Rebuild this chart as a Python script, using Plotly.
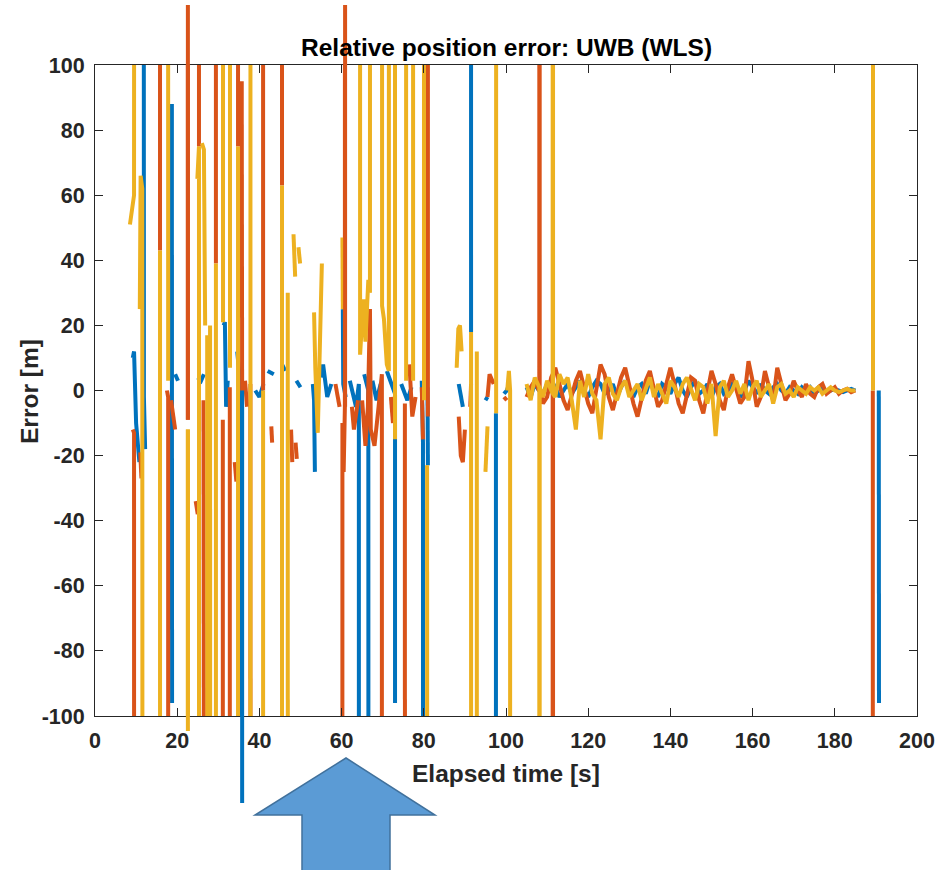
import plotly.graph_objects as go

N = None
# ---------------- data (time [s], error [m]); +/-999 = off-scale spike ----------------
t_blue_early = [9.2, 9.5, 10.0, 10.8, N,
                11.7, 11.7, 11.9, 12.2, N,
                18.7, 18.75, N,
                19.5, 20.2, N,
                25.0, 25.8, 26.5, N,
                31.3, 31.6, 31.9, 32.3, N,
                34.6, 35.2, 35.7, 35.8, N,
                39.0, 40.0, 41.0, N,
                42.0, 43.5, N,
                45.5, 46.3, N,
                49.0, 50.0, N,
                53.0, 53.3, 53.5, N,
                55.0, 55.5, 56.5, 57.5, N,
                60.3, 60.4, 61.0, N,
                62.0, 63.5, 64.2, 64.25, N,
                65.5, 66.5, 66.7, N,
                67.5, 68.5, 69.5, N,
                71.0, 72.0, 73.0, 73.0, N,
                74.5, 76.0, 77.0, N,
                79.5, 79.8, 79.85, N,
                80.9, 81.0, N,
                88.5, 89.0, 89.5, N,
                91.45, 91.5, N,
                95.0, 95.5, N,
                97.55, 97.6, N,
                99.5, 100.2, 100.8, N]
e_blue_early = [10, 12, -10, -22, N,
                999, 1, -2, -18, N,
                88, -96, N,
                5, 3, N,
                4, 3, 5, N,
                20, 21, -5, 3, N,
                12, 4, 2, -999, N,
                0, -2, 2, N,
                6, 5, N,
                8, 6, N,
                3, 1, N,
                2, -3, -25, N,
                4, 8, -2, 2, N,
                25, 2, -2, N,
                3, -5, 2, -999, N,
                5, 0, -999, N,
                3, -3, 2, N,
                6, 2, -1, -96, N,
                2, -3, 1, N,
                3, -16, -999, N,
                1, -23, N,
                2, -1, -5, N,
                999, 18, N,
                -3, -2, N,
                -7, -999, N,
                -1, 0, 2, N]

t_orange_early = [9.2, 9.5, 9.6, N,
                  11.0, 11.3, N,
                  15.8, 15.82, N,
                  17.5, 17.8, 17.85, N,
                  18.5, 19.5, N,
                  22.6, 22.62, N,
                  24.5, 25.0, N,
                  25.28, 25.3, N,
                  26.4, 26.7, 27.2, N,
                  29.4, 29.42, N,
                  31.1, 31.15, N,
                  32.8, 32.85, N,
                  34.0, 34.4, N,
                  34.78, 34.8, N,
                  35.7, 35.8, N,
                  36.5, 37.0, N,
                  37.8, 37.95, N,
                  40.88, 40.9, N,
                  42.9, 43.1, N,
                  45.48, 45.5, N,
                  47.7, 48.0, N,
                  48.8, 49.1, N,
                  58.5, 59.5, N,
                  60.1, 60.2, 60.5, 60.8, 60.85, N,
                  62.5, 63.0, 64.0, N,
                  65.0, 65.8, 66.4, 66.9, 67.1, 68.0, 69.0, 69.8, 69.85, N,
                  72.0, 72.5, N,
                  75.4, 75.45, N,
                  76.5, 77.2, 78.0, N,
                  79.5, 79.8, N,
                  80.98, 81.0, N,
                  88.5, 89.0, 89.5, 90.0, N,
                  91.3, 91.5, N,
                  95.5, 96.0, 97.0, N,
                  99.5, 100.2, N]
e_orange_early = [-12, -13, -999, N,
                  -19, -27, N,
                  999, 43, N,
                  0, -2, -999, N,
                  -3, -12, N,
                  -9, 999, N,
                  -34, -38, N,
                  999, 75, N,
                  -3, -47, -999, N,
                  999, 39, N,
                  -9, -999, N,
                  1, -999, N,
                  -22, -28, N,
                  999, 75, N,
                  95, -1, N,
                  3, -5, N,
                  2, -999, N,
                  999, 0, N,
                  -11, -16, N,
                  999, 63, N,
                  -12, -22, N,
                  -16, -21, N,
                  2, -5, N,
                  -999, -10, -25, -5, 999, N,
                  -5, -12, -3, N,
                  -3, -17, -5, 25, -12, -17, -5, 5, -999, N,
                  -2, -10, N,
                  -4, -999, N,
                  8, -8, -2, N,
                  1, -15, N,
                  999, -8, N,
                  -8, -20, -22, -12, N,
                  -5, 2, N,
                  -2, 5, 2, N,
                  -2, -3, N]

t_yellow_early = [8.5, 9.5, 9.7, N,
                  10.9, 11.1, 11.5, 11.7, N,
                  15.82, 15.85, N,
                  17.75, 17.8, N,
                  22.6, 22.62, N,
                  24.9, 25.3, 25.35, N,
                  26.0, 26.5, 26.8, N,
                  27.3, 27.7, N,
                  28.0, 28.1, N,
                  29.42, 29.45, N,
                  31.1, 31.15, N,
                  32.8, 32.85, N,
                  34.8, 34.82, N,
                  37.8, 37.85, N,
                  40.9, 40.92, N,
                  45.5, 45.52, N,
                  46.9, 46.95, N,
                  48.3, 48.7, N,
                  49.5, 49.9, N,
                  53.3, 53.6, 54.2, 54.6, 55.2, N,
                  60.2, 60.3, N,
                  64.45, 64.5, 65.3, 65.8, 66.5, 66.9, 66.95, N,
                  69.8, 69.85, 70.3, 71.0, 71.5, 71.55, N,
                  72.95, 73.0, N,
                  75.65, 75.7, N,
                  77.35, 77.4, N,
                  80.0, 80.05, N,
                  80.8, 80.85, N,
                  88.0, 88.4, 88.8, 89.2, N,
                  91.5, 91.55, N,
                  92.9, 92.95, N,
                  95.0, 95.5, N,
                  97.55, 97.6, N,
                  100.3, 100.7, 101.0, 101.05, N]
e_yellow_early = [51, 60, 999, N,
                  25, 66, 62, -999, N,
                  43, -999, N,
                  999, 3, N,
                  -12, -999, N,
                  65, 75, -999, N,
                  76, 74, 20, N,
                  17, -999, N,
                  20, -999, N,
                  39, -999, N,
                  999, 21, N,
                  999, 7, N,
                  75, -999, N,
                  999, -999, N,
                  0, -999, N,
                  63, -999, N,
                  30, -999, N,
                  48, 35, N,
                  44, 39, N,
                  24, 7, -13, 10, 39, N,
                  47, 25, N,
                  999, 11, 28, 15, 34, 30, 999, N,
                  999, 26, 22, 8, 6, 999, N,
                  999, -15, N,
                  999, 3, N,
                  999, 3, N,
                  999, -3, N,
                  -23, -999, N,
                  7, 19, 20, 12, N,
                  18, -999, N,
                  12, -999, N,
                  -25, -11, N,
                  999, -7, N,
                  0, 6, 0, -999, N]

# dense part, sampled once per second from 105 s to 185 s
t_dense = list(range(105, 186))
e_blue_dense = [1, -2, 2, 0, -1, 2, 3, 1, -2, 0, 2, -1, 1, 3, 0, -2, 1, 3, 2, -1,
                0, 2, -2, 1, 3, 0, -2, 1, 2, -1, 3, 0, -2, 2, 1, -1, 2, 4, 0, -2,
                1, 3, -1, 0, 2, -2, 1, 2, -1, 0, 2, 1, -2, 0, 3, 1, -1, 2, 0, -1,
                1, 2, 0, -1, 1, 0, -1, 1, 0, 1, -1, 0, 0.5, -0.5, 0, 0.5, 0, -0.5, 0, 0.5, 0]
e_orange_dense = [-2, 1, 3, 0, -4, -2, 4, 7, 2, -3, -6, -1, 3, 6, 1, -4, -7, 0, 8, 5,
                  -2, -6, -1, 4, 7, 1, -4, -8, -2, 3, 6, 0, -5, -3, 2, 7, 2, -4, -7, -1,
                  4, 3, -3, -7, 0, 6, 2, -3, -6, 1, 5, 0, -4, -2, 9, 3, -5, -2, 6, 1,
                  -3, 7, 2, -3, -1, 3, 0, -2, 2, -1, -2, 1, 2, -1, 0, 1, -1, 0, 0.5, -0.5, 0]
e_yellow_dense = [2, -3, 4, 1, -2, 3, 0, -2, 5, 2, 4, -3, -12, 3, -2, 5, -1, -3, -15, 2,
                  4, -1, -3, 1, 3, -2, 0, 2, -3, 1, 4, -2, 2, -1, -4, 3, 1, -2, 2, 4,
                  0, -3, 2, 1, -4, 2, -14, 1, 3, -2, 0, 3, -1, 2, -3, 1, 3, -2, 0, 2,
                  -4, 1, 2, -1, 0, -2, 1, 0, -1, 1, 0, 1, -1, 0, 1, 0, -0.5, 0, 0.5, 0, 0]

# spikes inside the dense part
t_orange_spk = [108.1, 108.15, 108.2, 111.35, 111.4, 111.45]
e_orange_spk = [1, 999, 1, 5, -999, 5]
t_yellow_spk = [108.1, 108.15, 108.2, 111.35, 111.4, 111.45]
e_yellow_spk = [1, -999, 1, -1, 999, -1]

# late spikes
t_blue_late = [190.7, 190.75]
e_blue_late = [0, -96]
t_orange_late = [189.25, 189.3]
e_orange_late = [0, -999]
t_yellow_late = [189.25, 189.3]
e_yellow_late = [999, 0]

# segments drawn without clipping to the axes box
t_orange_ext = [22.6, 22.6, N, 60.85, 60.85]
e_orange_ext = [-9, 118.4, N, -5, 118.4]
t_blue_ext = [35.8, 35.8]
e_blue_ext = [0, -126.7]
t_yellow_ext = [22.6, 22.6]
e_yellow_ext = [-12, -104.6]

x_ticks = [0, 20, 40, 60, 80, 100, 120, 140, 160, 180, 200]
y_ticks = [-100, -80, -60, -40, -20, 0, 20, 40, 60, 80, 100]
y_ticktext = [str(v) for v in y_ticks]

C_BLUE, C_ORANGE, C_YELLOW = "#0072BD", "#D95319", "#EDB120"


def assemble(t_early, e_early, t_spk, e_spk, e_dense, t_late, e_late):
    pts = list(zip(t_dense, e_dense)) + list(zip(t_spk, e_spk))
    pts.sort(key=lambda p: p[0])
    t = list(t_early) + [p[0] for p in pts] + [None] + list(t_late)
    e = list(e_early) + [p[1] for p in pts] + [None] + list(e_late)
    return t, e


tb, eb = assemble(t_blue_early, e_blue_early, [], [], e_blue_dense, t_blue_late, e_blue_late)
to, eo = assemble(t_orange_early, e_orange_early, t_orange_spk, e_orange_spk, e_orange_dense,
                  t_orange_late, e_orange_late)
ty, ey = assemble(t_yellow_early, e_yellow_early, t_yellow_spk, e_yellow_spk, e_yellow_dense,
                  t_yellow_late, e_yellow_late)

W, H = 938, 870
L, R, T, B = 95, 917, 65, 716  # axes box in pixels
FONT = "Liberation Sans, Arial, Helvetica, sans-serif"
LW = 4

fig = go.Figure()
for t, e, c in [(tb, eb, C_BLUE), (to, eo, C_ORANGE), (ty, ey, C_YELLOW)]:
    fig.add_trace(go.Scatter(x=t, y=e, mode="lines", line=dict(color=c, width=LW),
                             connectgaps=False, hoverinfo="skip", showlegend=False,
                             xaxis="x", yaxis="y"))
for t, e, c in [(t_blue_ext, e_blue_ext, C_BLUE), (t_orange_ext, e_orange_ext, C_ORANGE),
                (t_yellow_ext, e_yellow_ext, C_YELLOW)]:
    fig.add_trace(go.Scatter(x=t, y=e, mode="lines", line=dict(color=c, width=LW),
                             connectgaps=False, hoverinfo="skip", showlegend=False,
                             xaxis="x2", yaxis="y2"))

ppy = (B - T) / 200.0
y2_top = 100 + T / ppy
y2_bot = -100 - (H - B) / ppy

axis_common = dict(ticks="inside", ticklen=8, tickwidth=1, tickcolor="#262626",
                   showline=True, linecolor="#262626", linewidth=1, mirror="ticks",
                   showgrid=False, zeroline=False, automargin=False,
                   tickfont=dict(family=FONT, size=21.5, color="#262626", weight="bold"))

fig.update_layout(
    width=W, height=H,
    margin=dict(l=0, r=0, t=0, b=0, pad=0),
    paper_bgcolor="white", plot_bgcolor="rgba(0,0,0,0)",
    showlegend=False,
    xaxis=dict(domain=[L / W, R / W], range=[0, 200], tickvals=x_ticks,
               anchor="y", ticklabelstandoff=5, **axis_common),
    yaxis=dict(domain=[1 - B / H, 1 - T / H], range=[-100, 100], tickvals=y_ticks,
               ticktext=y_ticktext, anchor="x", ticklabelstandoff=5, **axis_common),
    xaxis2=dict(domain=[L / W, R / W], range=[0, 200], visible=False, anchor="y2"),
    yaxis2=dict(domain=[0, 1], range=[y2_bot, y2_top], visible=False, anchor="x2"),
)

fig.add_annotation(text="Relative position error: UWB (WLS)", x=(L + R) / 2 / W, y=1 - 47 / H,
                   xref="paper", yref="paper", showarrow=False, xanchor="center", yanchor="middle",
                   font=dict(family=FONT, size=24.5, color="black", weight="bold"))
fig.add_annotation(text="Elapsed time [s]", x=(L + R) / 2 / W, y=1 - 773 / H,
                   xref="paper", yref="paper", showarrow=False, xanchor="center", yanchor="middle",
                   font=dict(family=FONT, size=24.5, color="#262626", weight="bold"))
fig.add_annotation(text="Error [m]", x=30 / W, y=1 - 392 / H, textangle=-90,
                   xref="paper", yref="paper", showarrow=False, xanchor="center", yanchor="middle",
                   font=dict(family=FONT, size=24.5, color="#262626", weight="bold"))


def P(px, py):
    return f"{px / W:.5f},{1 - py / H:.5f}"


arrow = [(346, 758), (435, 815), (390, 815), (390, 880), (302, 880), (302, 815), (255, 815)]
path = "M " + " L ".join(P(x, y) for x, y in arrow) + " Z"
fig.add_shape(type="path", path=path, xref="paper", yref="paper",
              fillcolor="#5B9BD5", line=dict(color="#41719C", width=1.5), layer="above")

fig.write_html("out.html", config={"displayModeBar": False},
               post_script="document.body.style.margin='0px';document.body.style.overflow='hidden';")
